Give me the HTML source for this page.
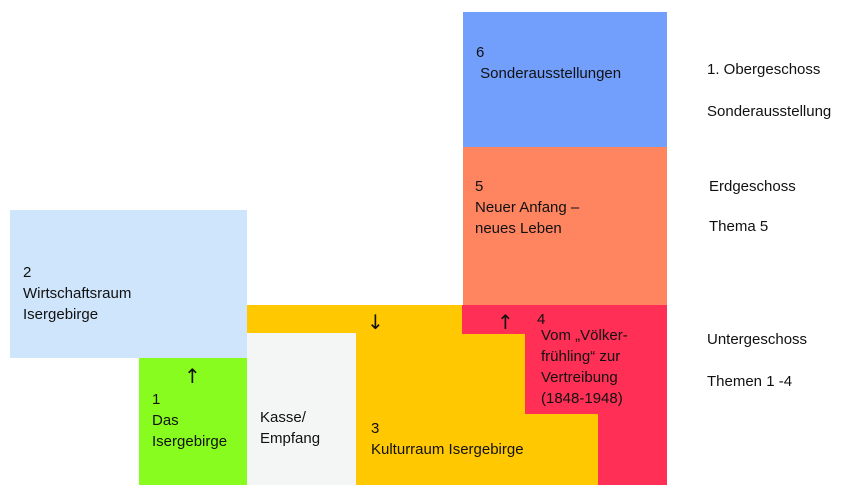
<!DOCTYPE html>
<html><head><meta charset="utf-8"><style>
body{margin:0;width:848px;height:496px;background:#fff;position:relative;overflow:hidden;font-family:"Liberation Sans",sans-serif;font-size:15px;color:#111}
.r{position:absolute}
.t{position:absolute;line-height:21px;white-space:nowrap}
.a{font-size:20px;font-family:"DejaVu Sans",sans-serif}
</style></head><body>
<div class="r" style="left:10px;top:210px;width:237px;height:148px;background:#cfe5fb"></div>
<div class="r" style="left:139px;top:358px;width:108px;height:127px;background:#88fb1f"></div>
<div class="r" style="left:247px;top:333px;width:109px;height:152px;background:#f4f5f5"></div>
<div class="r" style="left:463px;top:12px;width:204px;height:135px;background:#729ffc"></div>
<div class="r" style="left:463px;top:147px;width:204px;height:158px;background:#ff8460"></div>
<div class="r" style="left:462px;top:305px;width:205px;height:180px;background:#ff2f55"></div>
<div class="r" style="left:247px;top:305px;width:215px;height:28px;background:#ffc800"></div>
<div class="r" style="left:356px;top:333px;width:106px;height:152px;background:#ffc800"></div>
<div class="r" style="left:462px;top:334px;width:63px;height:151px;background:#ffc800"></div>
<div class="r" style="left:525px;top:414px;width:73px;height:71px;background:#ffc800"></div>

<div class="t" style="left:23px;top:262px">2<br>Wirtschaftsraum<br>Isergebirge</div>
<div class="t a" style="left:184px;top:366px">↑</div>
<div class="t" style="left:152px;top:389px">1<br>Das<br>Isergebirge</div>
<div class="t" style="left:260px;top:407px">Kasse/<br>Empfang</div>
<div class="t a" style="left:367px;top:312px">↓</div>
<div class="t a" style="left:497px;top:312px">↑</div>
<div class="t" style="left:371px;top:418px">3<br>Kulturraum Isergebirge</div>
<div class="t" style="left:537px;top:309px">4</div>
<div class="t" style="left:541px;top:325px">Vom „Völker-<br>frühling“ zur<br>Vertreibung<br>(1848-1948)</div>
<div class="t" style="left:476px;top:42px">6<br>&nbsp;Sonderausstellungen</div>
<div class="t" style="left:475px;top:176px">5<br>Neuer Anfang –<br>neues Leben</div>
<div class="t" style="left:707px;top:59px">1. Obergeschoss</div>
<div class="t" style="left:707px;top:101px">Sonderausstellung</div>
<div class="t" style="left:709px;top:176px">Erdgeschoss</div>
<div class="t" style="left:709px;top:216px">Thema 5</div>
<div class="t" style="left:707px;top:329px">Untergeschoss</div>
<div class="t" style="left:707px;top:371px">Themen 1 -4</div>
</body></html>
